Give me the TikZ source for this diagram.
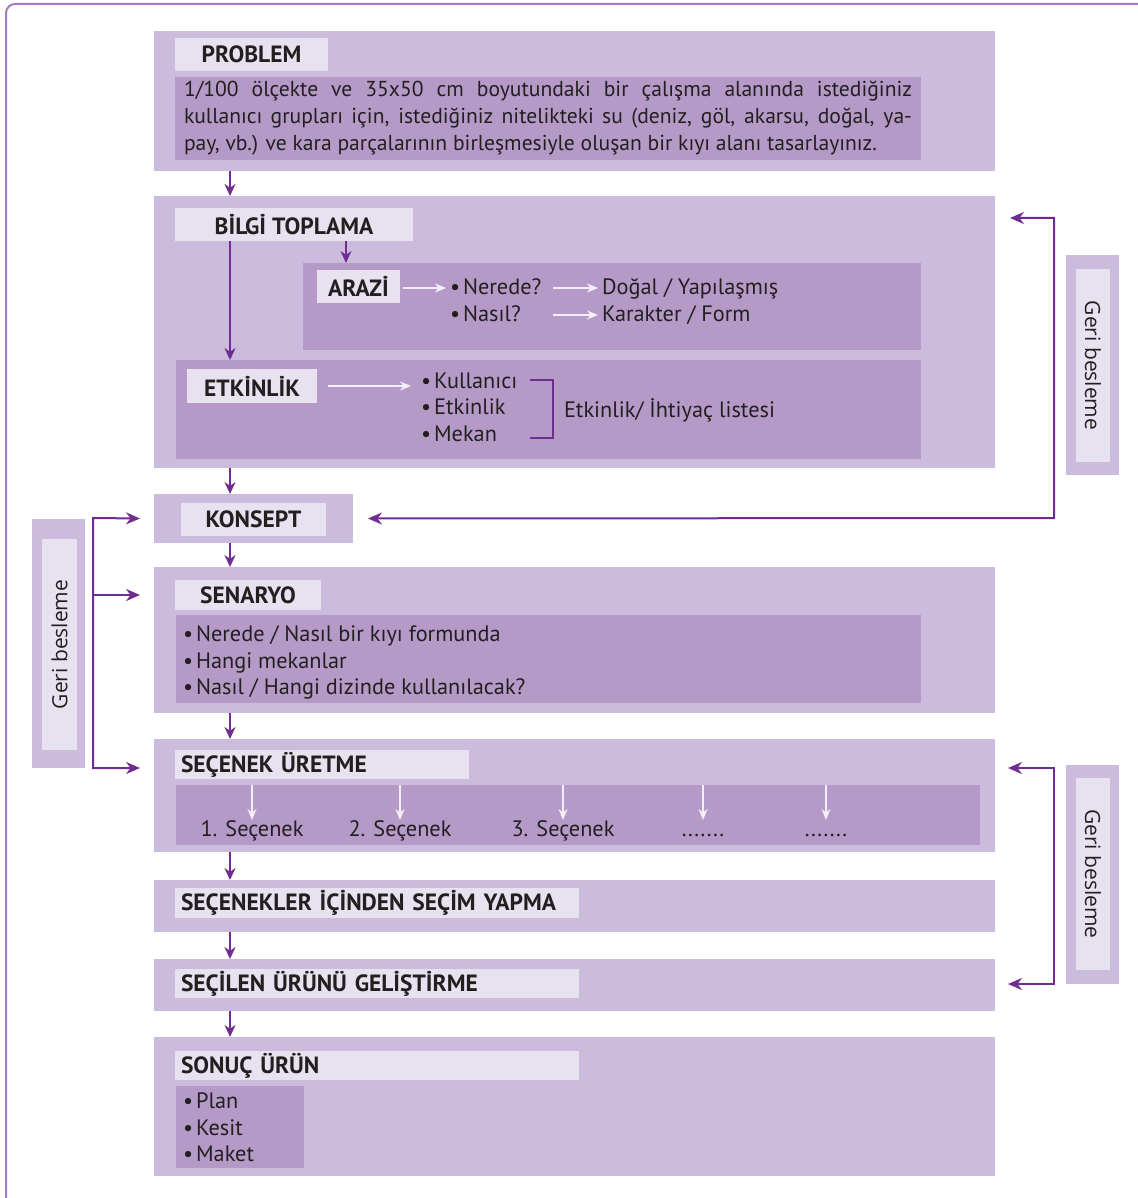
\documentclass[tikz,border=0pt]{standalone}
\usepackage{fontspec}
\setmainfont{PT Sans}
\newfontfamily\gbfont{Open Sans}
\usetikzlibrary{arrows.meta}
\definecolor{outerc}{HTML}{CBBBDD}
\definecolor{innerc}{HTML}{B59AC8}
\definecolor{labelc}{HTML}{E8E2F0}
\definecolor{arrc}{HTML}{6F2C91}
\definecolor{framec}{HTML}{A07CC3}
\definecolor{txtc}{HTML}{231F20}
\definecolor{warrc}{HTML}{F3EFF7}
\begin{document}
\begin{tikzpicture}[x=1pt,y=-1pt,
  every node/.style={inner sep=0pt, outer sep=0pt, text=txtc},
  outerbox/.style={fill=outerc, anchor=north west},
  innerbox/.style={fill=innerc, anchor=north west},
  labelbox/.style={fill=labelc, anchor=north west, font=\fontsize{23.5}{25}\selectfont\bfseries},
  leftlabel/.style={labelbox, align=left, inner xsep=6pt},
  body/.style={font=\fontsize{22.3}{27}\selectfont},
  item/.style={body, anchor=west, text height=1.5em, text depth=0.18em},
  gbtext/.style={font=\gbfont\fontsize{21}{24}\selectfont},
  parrow/.style={draw=arrc, line width=2pt, -{Stealth[length=12pt,width=11pt]}},
  fbline/.style={draw=arrc, line width=2pt},
  fbtip/.style={draw=arrc, line width=2pt, -{Stealth[length=14pt,width=12pt]}},
  warrow/.style={draw=warrc, line width=2pt, -{Stealth[length=11pt,width=9pt]}},
]
\useasboundingbox (0,0) rectangle (1137,1198);
% outer frame
\draw[framec, line width=2pt, rounded corners=9pt] (1140,4) -- (6,4) -- (6,1202);

% ---------- PROBLEM
\node[outerbox, minimum width=841pt, minimum height=140pt] (prob) at (154,31) {};
\node[labelbox, minimum width=153pt, minimum height=33pt] (probT) at (175,38) {PROBLEM};
\node[innerbox, font=\fontsize{21.6}{27}\selectfont, minimum width=746pt, minimum height=83pt, text width=728pt, inner xsep=9pt, align=justify] (probI) at (175,77)
 {1/100 ölçekte ve 35x50 cm boyutundaki bir çalışma alanında istediğiniz\linebreak kullanıcı grupları için, istediğiniz nitelikteki su (deniz, göl, akarsu, doğal, ya-\linebreak pay, vb.) ve kara parçalarının birleşmesiyle oluşan bir kıyı alanı tasarlayınız.};

% ---------- BILGI TOPLAMA
\node[outerbox, minimum width=841pt, minimum height=272pt] (bilgi) at (154,196) {};
\node[labelbox, minimum width=238pt, minimum height=33pt] (bilgiT) at (175,208) {BİLGİ TOPLAMA};
\node[innerbox, minimum width=618pt, minimum height=87pt] (arazi) at (303,263) {};
\node[labelbox, minimum width=83pt, minimum height=33pt] (araziT) at (317,270) {ARAZİ};
\node[item] (nerede) at (450,288) {•\hspace{3pt}Nerede?};
\node[item] (nasil) at (450,315) {•\hspace{3pt}Nasıl?};
\node[item] (dogal) at (602,288) {Doğal / Yapılaşmış};
\node[item] (karakter) at (602,315) {Karakter / Form};
\draw[warrow] ([xshift=3pt]araziT.east |- nerede.west) -- ([xshift=-4pt]nerede.west);
\draw[warrow] ([xshift=-49pt]dogal.west) -- ([xshift=-4pt]dogal.west);
\draw[warrow] ([xshift=-49pt]karakter.west) -- ([xshift=-4pt]karakter.west);

\node[innerbox, minimum width=745pt, minimum height=99pt] (etk) at (176,360) {};
\node[labelbox, minimum width=130pt, minimum height=34pt] (etkT) at (187,369) {ETKİNLİK};
\node[item] (kull) at (421,382) {•\hspace{3pt}Kullanıcı};
\node[item] (etkin) at (421,408) {•\hspace{3pt}Etkinlik};
\node[item] (mekan) at (421,435) {•\hspace{3pt}Mekan};
\node[item] (liste) at (564,411) {Etkinlik/ İhtiyaç listesi};
\draw[warrow] ([xshift=11pt]etkT.east |- 0,386) -- ([xshift=-10pt]kull.west |- 0,386);
\draw[fbline] (530,380) -- (553,380) -- (553,438) -- (530,438);

\draw[parrow] ([xshift=55pt]bilgiT.south west) -- ([xshift=55pt]bilgiT.south west |- etk.north);
\draw[parrow] ([xshift=171pt]bilgiT.south west) -- ([xshift=171pt]bilgiT.south west |- arazi.north);

% ---------- KONSEPT
\node[outerbox, minimum width=199pt, minimum height=49pt] (kons) at (154,494) {};
\node[labelbox, minimum width=145pt, minimum height=33pt] (konsT) at (181,503) {KONSEPT};

% ---------- SENARYO
\node[outerbox, minimum width=841pt, minimum height=146pt] (sen) at (154,567) {};
\node[labelbox, minimum width=146pt, minimum height=30pt] (senT) at (175,580) {SENARYO};
\node[innerbox, minimum width=745pt, minimum height=88pt] (senI) at (176,615) {};
\node[item] (sen1) at (183,635) {•\hspace{3pt}Nerede / Nasıl bir kıyı formunda};
\node[item] (sen2) at (183,662) {•\hspace{3pt}Hangi mekanlar};
\node[item] (sen3) at (183,688) {•\hspace{3pt}Nasıl / Hangi dizinde kullanılacak?};

% ---------- SECENEK URETME
\node[outerbox, minimum width=841pt, minimum height=113pt] (sec) at (154,739) {};
\node[leftlabel, minimum width=294pt, minimum height=29pt, text width=282pt] (secT) at (175,750) {SEÇENEK ÜRETME};
\node[innerbox, minimum width=804pt, minimum height=60pt] (secI) at (176,785) {};
\node[item, anchor=center] (s1) at (252,830) {1. Seçenek};
\node[item, anchor=center] (s2) at (400,830) {2. Seçenek};
\node[item, anchor=center] (s3) at (563,830) {3. Seçenek};
\node[item, anchor=center] (s4) at (703,830) {.......};
\node[item, anchor=center] (s5) at (826,830) {.......};
\foreach \n in {s1,s2,s3,s4,s5}
  \draw[warrow] (\n |- secI.north) -- (\n |- 0,820);

% ---------- SECIM YAPMA
\node[outerbox, minimum width=841pt, minimum height=52pt] (secim) at (154,880) {};
\node[leftlabel, minimum width=404pt, minimum height=30pt, text width=392pt] (secimT) at (175,888) {SEÇENEKLER İÇİNDEN SEÇİM YAPMA};

% ---------- GELISTIRME
\node[outerbox, minimum width=841pt, minimum height=52pt] (gel) at (154,959) {};
\node[leftlabel, minimum width=404pt, minimum height=29pt, text width=392pt] (gelT) at (175,969) {SEÇİLEN ÜRÜNÜ GELİŞTİRME};

% ---------- SONUC
\node[outerbox, minimum width=841pt, minimum height=139pt] (son) at (154,1037) {};
\node[leftlabel, minimum width=404pt, minimum height=29pt, text width=392pt] (sonT) at (175,1051) {SONUÇ ÜRÜN};
\node[innerbox, minimum width=128pt, minimum height=82pt] (sonI) at (176,1086) {};
\node[item] (son1) at (183,1102) {•\hspace{3pt}Plan};
\node[item] (son2) at (183,1129) {•\hspace{3pt}Kesit};
\node[item] (son3) at (183,1155) {•\hspace{3pt}Maket};

% ---------- main flow arrows
\draw[parrow] ([xshift=76pt]prob.south west) -- ([xshift=76pt]bilgi.north west);
\draw[parrow] ([xshift=76pt]bilgi.south west) -- ([xshift=76pt]kons.north west);
\draw[parrow] ([xshift=76pt]kons.south west) -- ([xshift=76pt]sen.north west);
\draw[parrow] ([xshift=76pt]sen.south west) -- ([xshift=76pt]sec.north west);
\draw[parrow] ([xshift=76pt]sec.south west) -- ([xshift=76pt]secim.north west);
\draw[parrow] ([xshift=76pt]secim.south west) -- ([xshift=76pt]gel.north west);
\draw[parrow] ([xshift=76pt]gel.south west) -- ([xshift=76pt]son.north west);

% ---------- feedback right top
\coordinate (rt1) at ([shift={(15,22)}]bilgi.north east);
\coordinate (rt2) at ([xshift=15pt]kons.east);
\draw[fbline, {Stealth[length=14pt,width=12pt]}-{Stealth[length=14pt,width=12pt]}]
  (rt2) -- (1054,518) -- (1054,218) -- (rt1);
\node[outerbox, minimum width=53pt, minimum height=220pt] (gb1) at (1066,255) {};
\node[fill=labelc, anchor=north west, minimum width=34pt, minimum height=193pt] (gb1i) at (1076,269) {};
\node[gbtext, rotate=-90] at (gb1i.center) {Geri besleme};

% ---------- feedback left
\coordinate (lt1) at ([xshift=-14pt]kons.west);
\coordinate (lt2) at ([xshift=-14pt]sen.west |- 0,595);
\coordinate (lt3) at ([xshift=-14pt]sec.west |- 0,768);
\draw[fbline, {Stealth[length=14pt,width=12pt]}-{Stealth[length=14pt,width=12pt]}]
  (lt1) -- (93,518) -- (93,768) -- (lt3);
\draw[fbtip] (93,595) -- (lt2);
\node[outerbox, minimum width=53pt, minimum height=249pt] (gb2) at (32,519) {};
\node[fill=labelc, anchor=north west, minimum width=35pt, minimum height=211pt] (gb2i) at (42,539) {};
\node[gbtext, rotate=90] at (gb2i.center) {Geri besleme};

% ---------- feedback right bottom
\coordinate (rb1) at ([shift={(13,29)}]sec.north east);
\coordinate (rb2) at ([shift={(13,25)}]gel.north east);
\draw[fbline, {Stealth[length=14pt,width=12pt]}-{Stealth[length=14pt,width=12pt]}]
  (rb1) -- (1054,768) -- (1054,984) -- (rb2);
\node[outerbox, minimum width=53pt, minimum height=219pt] (gb3) at (1066,765) {};
\node[fill=labelc, anchor=north west, minimum width=34pt, minimum height=192pt] (gb3i) at (1076,778) {};
\node[gbtext, rotate=-90] at (gb3i.center) {Geri besleme};
\end{tikzpicture}
\end{document}
